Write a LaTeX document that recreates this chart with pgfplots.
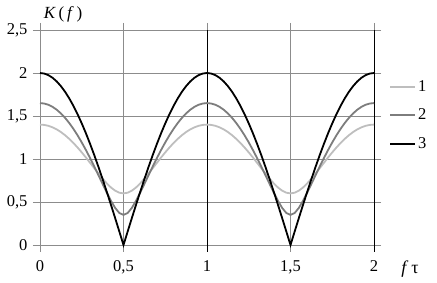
\documentclass[border=0pt]{standalone}
\usepackage{pgfplots}
\usepackage{pgfplotstable}
\pgfplotsset{compat=1.18}
\usepackage{fontspec}
\setmainfont{Liberation Serif}
\definecolor{gridgray}{RGB}{140,140,140}
\definecolor{cA}{RGB}{190,190,190}
\definecolor{cB}{RGB}{125,125,125}
\pgfplotstableread{
x a b c
0 1.4 1.65 2
0.025 1.3965 1.6451 1.9938
0.05 1.3859 1.6306 1.9754
0.075 1.3685 1.6065 1.9447
0.1 1.3443 1.5730 1.9021
0.125 1.3137 1.5303 1.8478
0.15 1.2768 1.4787 1.7820
0.175 1.2342 1.4187 1.7053
0.2 1.1863 1.3506 1.6180
0.225 1.1336 1.2751 1.5208
0.25 1.0770 1.1927 1.4142
0.275 1.0173 1.1042 1.2989
0.3 0.9554 1.0103 1.1756
0.325 0.8926 0.9123 1.0450
0.35 0.8305 0.8114 0.9080
0.375 0.7709 0.7094 0.7654
0.4 0.7161 0.6089 0.6180
0.425 0.6687 0.5140 0.4669
0.45 0.6318 0.4314 0.3129
0.475 0.6082 0.3722 0.1569
0.5 0.6 0.35 0
0.525 0.6082 0.3722 0.1569
0.55 0.6318 0.4314 0.3129
0.575 0.6687 0.5140 0.4669
0.6 0.7161 0.6089 0.6180
0.625 0.7709 0.7094 0.7654
0.65 0.8305 0.8114 0.9080
0.675 0.8926 0.9123 1.0450
0.7 0.9554 1.0103 1.1756
0.725 1.0173 1.1042 1.2989
0.75 1.0770 1.1927 1.4142
0.775 1.1336 1.2751 1.5208
0.8 1.1863 1.3506 1.6180
0.825 1.2342 1.4187 1.7053
0.85 1.2768 1.4787 1.7820
0.875 1.3137 1.5303 1.8478
0.9 1.3443 1.5730 1.9021
0.925 1.3685 1.6065 1.9447
0.95 1.3859 1.6306 1.9754
0.975 1.3965 1.6451 1.9938
1 1.4 1.65 2
1.025 1.3965 1.6451 1.9938
1.05 1.3859 1.6306 1.9754
1.075 1.3685 1.6065 1.9447
1.1 1.3443 1.5730 1.9021
1.125 1.3137 1.5303 1.8478
1.15 1.2768 1.4787 1.7820
1.175 1.2342 1.4187 1.7053
1.2 1.1863 1.3506 1.6180
1.225 1.1336 1.2751 1.5208
1.25 1.0770 1.1927 1.4142
1.275 1.0173 1.1042 1.2989
1.3 0.9554 1.0103 1.1756
1.325 0.8926 0.9123 1.0450
1.35 0.8305 0.8114 0.9080
1.375 0.7709 0.7094 0.7654
1.4 0.7161 0.6089 0.6180
1.425 0.6687 0.5140 0.4669
1.45 0.6318 0.4314 0.3129
1.475 0.6082 0.3722 0.1569
1.5 0.6 0.35 0
1.525 0.6082 0.3722 0.1569
1.55 0.6318 0.4314 0.3129
1.575 0.6687 0.5140 0.4669
1.6 0.7161 0.6089 0.6180
1.625 0.7709 0.7094 0.7654
1.65 0.8305 0.8114 0.9080
1.675 0.8926 0.9123 1.0450
1.7 0.9554 1.0103 1.1756
1.725 1.0173 1.1042 1.2989
1.75 1.0770 1.1927 1.4142
1.775 1.1336 1.2751 1.5208
1.8 1.1863 1.3506 1.6180
1.825 1.2342 1.4187 1.7053
1.85 1.2768 1.4787 1.7820
1.875 1.3137 1.5303 1.8478
1.9 1.3443 1.5730 1.9021
1.925 1.3685 1.6065 1.9447
1.95 1.3859 1.6306 1.9754
1.975 1.3965 1.6451 1.9938
2 1.4 1.65 2
}\datatable
\begin{document}
\begin{tikzpicture}
\path[use as bounding box] (-40pt,-38pt) rectangle (397pt,245pt);
\begin{axis}[
  at={(0pt,0pt)}, anchor=south west,
  scale only axis, width=334pt, height=215pt,
  xmin=0, xmax=2, ymin=0, ymax=2.5,
  xtick={0,0.5,1,1.5,2}, ytick={0,0.5,1,1.5,2,2.5},
  xticklabels={0,{0,5},1,{1,5},2},
  yticklabels={0,{0,5},1,{1,5},2,{2,5}},
  grid=major, major grid style={gridgray, line width=0.8pt},
  axis line style={gridgray, line width=0.8pt},
  tick align=outside, major tick length=7pt,
  tick style={gridgray, line width=0.8pt},
  ticklabel style={font=\fontsize{16.5}{18}\selectfont},
  xticklabel style={yshift=-5pt},
  yticklabel style={xshift=-2pt},
  clip=false,
  legend style={draw=none, fill=none, at={(1.045,0.775)}, anchor=north west,
    font=\fontsize{16.5}{18}\selectfont, row sep=12pt, inner sep=0pt,
    /tikz/every even column/.append style={column sep=0pt}},
  legend cell align=left,
  legend image code/.code={\draw[#1] (0pt,0pt) -- (25pt,0pt);},
]
\draw[black, line width=1pt] (axis cs:1,0) ++(0,-7pt) -- (axis cs:1,2.5);
\draw[black, line width=1pt] (axis cs:2,0) ++(0,-7pt) -- (axis cs:2,2.5);
\addplot[cA, line width=1.8pt] table[x=x, y=a] {\datatable};
\addplot[cB, line width=1.8pt] table[x=x, y=b] {\datatable};
\addplot[black, line width=1.8pt] table[x=x, y=c] {\datatable};
\legend{1,2,3}
\node[font=\fontsize{17}{19}\selectfont] at (rel axis cs:0.069,1.074) {\textit{K}\,(\,\textit{f}\,)};
\node[font=\fontsize{18}{20}\selectfont] at (rel axis cs:1.108,-0.11) {\textit{f}\,τ};
\end{axis}
\end{tikzpicture}
\end{document}
